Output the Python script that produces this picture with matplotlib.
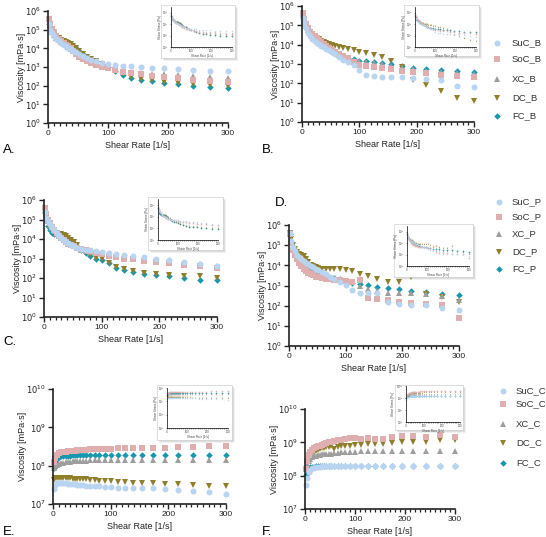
import numpy as np
import matplotlib
matplotlib.use('Agg')
import matplotlib.pyplot as plt
from matplotlib.patches import Rectangle
from matplotlib.lines import Line2D
from matplotlib.ticker import MultipleLocator, NullLocator

plt.rcParams['font.family'] = ['Liberation Sans', 'DejaVu Sans']

W, H = 546, 537

# shear rate [1/s]
shear = [2, 4, 7, 10, 14, 18, 22, 26, 30, 34, 38, 42, 47, 52, 58, 65, 72, 80, 90,
         100, 112, 125, 139, 155, 174, 194, 216, 242, 270, 300]

# log10 of viscosity [mPa·s]
# A: _B series
a_suc = [5.3, 5.0, 4.8, 4.65, 4.5, 4.4, 4.3, 4.2, 4.12, 4.03, 3.95, 3.87, 3.78, 3.7, 3.6, 3.5, 3.4, 3.3, 3.23,
         3.18, 3.12, 3.08, 3.04, 3.0, 2.96, 2.92, 2.88, 2.84, 2.8, 2.76]
a_soc = [5.55, 5.3, 5.05, 4.85, 4.65, 4.5, 4.4, 4.3, 4.2, 4.1, 4.0, 3.85, 3.7, 3.55, 3.42, 3.3, 3.2, 3.1, 3.0,
         2.92, 2.82, 2.75, 2.68, 2.6, 2.53, 2.46, 2.4, 2.32, 2.25, 2.2]
a_xc = [5.4, 5.1, 4.85, 4.7, 4.55, 4.45, 4.35, 4.25, 4.16, 4.07, 3.98, 3.9, 3.8, 3.7, 3.6, 3.5, 3.4, 3.3, 3.2,
        3.1, 2.95, 2.85, 2.75, 2.7, 2.65, 2.6, 2.55, 2.5, 2.45, 2.4]
a_dc = [5.5, 5.2, 4.95, 4.8, 4.65, 4.55, 4.45, 4.4, 4.35, 4.3, 4.22, 4.12, 4.0, 3.85, 3.7, 3.55, 3.42, 3.3, 3.15,
        3.0, 2.8, 2.6, 2.45, 2.35, 2.28, 2.2, 2.15, 2.08, 2.03, 1.97]
a_fc = [5.45, 5.15, 4.9, 4.75, 4.6, 4.5, 4.42, 4.38, 4.33, 4.3, 4.22, 4.12, 4.0, 3.85, 3.7, 3.55, 3.42, 3.3, 3.12,
        2.98, 2.78, 2.58, 2.42, 2.32, 2.24, 2.15, 2.08, 1.98, 1.92, 1.85]

# B: _B series
b_suc = [5.4, 5.1, 4.85, 4.6, 4.45, 4.3, 4.2, 4.1, 4.02, 3.95, 3.88, 3.8, 3.72, 3.62, 3.5, 3.35, 3.22, 3.1, 2.95,
         2.68, 2.45, 2.38, 2.35, 2.32, 2.35, 2.27, 2.2, 2.15, 1.84, 1.8]
b_soc = [5.65, 5.35, 5.05, 4.85, 4.68, 4.55, 4.45, 4.35, 4.25, 4.15, 4.05, 3.95, 3.85, 3.75, 3.6, 3.5, 3.4, 3.3, 3.1,
         2.95, 2.9, 2.85, 2.8, 2.75, 2.66, 2.6, 2.53, 2.45, 2.4, 2.35]
b_xc = [5.5, 5.2, 4.95, 4.75, 4.6, 4.48, 4.38, 4.28, 4.18, 4.08, 3.98, 3.88, 3.78, 3.68, 3.55, 3.45, 3.35, 3.28, 3.2,
        3.15, 3.1, 3.05, 3.0, 2.9, 2.8, 2.72, 2.65, 2.6, 2.55, 2.5]
b_dc = [5.55, 5.25, 5.0, 4.8, 4.65, 4.55, 4.45, 4.35, 4.28, 4.2, 4.15, 4.1, 4.05, 4.0, 3.95, 3.9, 3.83, 3.78, 3.7,
        3.64, 3.55, 3.45, 3.38, 3.16, 2.87, 2.18, 1.92, 1.58, 1.24, 1.07]
b_fc = [5.5, 5.2, 4.95, 4.75, 4.6, 4.48, 4.38, 4.28, 4.18, 4.08, 3.98, 3.88, 3.78, 3.65, 3.55, 3.47, 3.4, 3.32, 3.25,
        3.18, 3.13, 3.08, 3.04, 3.0, 2.9, 2.8, 2.75, 2.7, 2.65, 2.61]

# C: _P series
c_suc = [5.4, 5.1, 4.9, 4.75, 4.6, 4.45, 4.3, 4.15, 4.05, 3.95, 3.85, 3.78, 3.7, 3.62, 3.55, 3.5, 3.45, 3.42, 3.38,
         3.34, 3.28, 3.22, 3.17, 3.12, 3.08, 3.0, 2.92, 2.83, 2.74, 2.6]
c_soc = [5.57, 5.3, 5.0, 4.8, 4.6, 4.45, 4.3, 4.15, 4.05, 3.95, 3.85, 3.76, 3.68, 3.62, 3.56, 3.5, 3.45, 3.4, 3.3,
         3.22, 3.15, 3.08, 3.0, 2.95, 2.88, 2.8, 2.75, 2.68, 2.62, 2.52]
c_xc = [5.45, 5.15, 4.9, 4.7, 4.55, 4.4, 4.28, 4.18, 4.1, 4.0, 3.9, 3.82, 3.72, 3.62, 3.52, 3.45, 3.4, 3.35, 3.3,
        3.25, 3.2, 3.15, 3.1, 3.05, 3.0, 2.92, 2.85, 2.78, 2.7, 2.6]
c_dc = [5.45, 5.1, 4.8, 4.6, 4.45, 4.35, 4.3, 4.28, 4.25, 4.2, 4.15, 4.05, 3.95, 3.85, 3.7, 3.5, 3.35, 3.2, 3.05,
        2.95, 2.78, 2.55, 2.44, 2.35, 2.25, 2.2, 2.15, 2.12, 2.09, 2.02]
c_fc = [5.4, 5.0, 4.65, 4.45, 4.3, 4.25, 4.25, 4.25, 4.25, 4.2, 4.15, 4.05, 3.95, 3.82, 3.65, 3.45, 3.3, 3.15, 3.0,
        2.92, 2.75, 2.52, 2.4, 2.3, 2.2, 2.14, 2.09, 2.0, 1.92, 1.89]

# D: _P series
d_suc = [5.6, 5.2, 4.9, 4.7, 4.52, 4.4, 4.3, 4.2, 4.12, 4.05, 3.98, 3.9, 3.82, 3.75, 3.65, 3.55, 3.4, 3.3, 3.15,
         3.02, 2.8, 2.64, 2.62, 2.61, 2.17, 2.07, 2.05, 2.03, 1.87, 1.79]
d_soc = [5.55, 5.1, 4.75, 4.5, 4.3, 4.1, 3.95, 3.82, 3.72, 3.62, 3.55, 3.5, 3.44, 3.4, 3.36, 3.32, 3.3, 3.28, 3.25,
         3.22, 3.19, 3.25, 2.4, 2.35, 2.3, 2.2, 2.15, 2.07, 2.03, 1.4]
d_xc = [5.58, 5.15, 4.85, 4.62, 4.45, 4.32, 4.22, 4.14, 4.06, 4.0, 3.92, 3.85, 3.78, 3.7, 3.6, 3.5, 3.42, 3.35, 3.28,
        3.22, 3.19, 3.0, 2.85, 2.73, 2.64, 2.64, 2.64, 2.58, 2.48, 2.28]
d_dc = [5.62, 5.3, 5.0, 4.8, 4.65, 4.55, 4.5, 4.45, 4.3, 4.15, 4.0, 3.95, 3.9, 3.85, 3.82, 3.8, 3.8, 3.8, 3.8,
        3.78, 3.7, 3.57, 3.45, 3.32, 3.19, 3.19, 3.44, 2.58, 2.41, 2.18]
d_fc = [5.55, 5.15, 4.85, 4.65, 4.5, 4.38, 4.28, 4.18, 4.1, 4.0, 3.9, 3.8, 3.7, 3.6, 3.5, 3.42, 3.38, 3.36, 3.3,
        3.2, 3.1, 3.05, 3.02, 2.94, 2.86, 2.83, 2.74, 2.66, 2.6, 2.53]

# E: _C series
e_suc = [7.4, 7.5, 7.54, 7.55, 7.56, 7.55, 7.54, 7.53, 7.52, 7.52, 7.51, 7.5, 7.5, 7.49, 7.48, 7.47, 7.47, 7.46, 7.45,
         7.44, 7.43, 7.43, 7.43, 7.42, 7.41, 7.39, 7.36, 7.33, 7.3, 7.26]
e_soc = [8.1, 8.2, 8.27, 8.32, 8.35, 8.36, 8.36, 8.37, 8.37, 8.38, 8.39, 8.4, 8.41, 8.42, 8.42, 8.43, 8.43, 8.44, 8.44,
         8.44, 8.45, 8.45, 8.45, 8.46, 8.47, 8.47, 8.48, 8.48, 8.5, 8.5]
e_xc = [7.95, 8.0, 8.03, 8.05, 8.07, 8.08, 8.09, 8.1, 8.1, 8.11, 8.11, 8.12, 8.12, 8.13, 8.13, 8.14, 8.14, 8.14, 8.15,
        8.15, 8.15, 8.15, 8.15, 8.15, 8.15, 8.15, 8.15, 8.15, 8.15, 8.15]
e_dc = [7.62, 7.68, 7.69, 7.69, 7.68, 7.68, 7.67, 7.67, 7.67, 7.66, 7.66, 7.65, 7.65, 7.64, 7.64, 7.63, 7.62, 7.61, 7.6,
        7.6, 7.58, 7.57, 7.56, 7.55, 7.54, 7.53, 7.52, 7.5, 7.48, 7.46]
e_fc = [7.95, 8.1, 8.18, 8.22, 8.24, 8.25, 8.25, 8.26, 8.26, 8.27, 8.27, 8.27, 8.28, 8.28, 8.28, 8.28, 8.28, 8.28, 8.28,
        8.28, 8.28, 8.28, 8.28, 8.28, 8.28, 8.28, 8.28, 8.28, 8.28, 8.28]

# F: _C series
f_suc = [7.73, 7.93, 8.1, 8.18, 8.22, 8.24, 8.26, 8.27, 8.27, 8.28, 8.28, 8.28, 8.29, 8.29, 8.29, 8.29, 8.3, 8.3, 8.3,
         8.3, 8.3, 8.3, 8.3, 8.3, 8.3, 8.3, 8.3, 8.3, 8.3, 8.3]
f_soc = [8.2, 8.45, 8.62, 8.7, 8.78, 8.83, 8.86, 8.88, 8.9, 8.93, 8.96, 8.98, 9.0, 9.02, 9.04, 9.06, 9.08, 9.1, 9.12,
         9.12, 9.1, 9.13, 9.1, 9.1, 9.15, 9.18, 9.2, 9.15, 9.23, 9.16]
f_xc = [8.2, 8.35, 8.45, 8.5, 8.55, 8.58, 8.6, 8.62, 8.63, 8.64, 8.65, 8.65, 8.66, 8.66, 8.67, 8.68, 8.7, 8.7, 8.72,
        8.72, 8.73, 8.73, 8.73, 8.73, 8.73, 8.73, 8.73, 8.73, 8.73, 8.75]
f_dc = [8.2, 8.4, 8.52, 8.58, 8.65, 8.7, 8.74, 8.77, 8.8, 8.82, 8.84, 8.86, 8.87, 8.88, 8.8, 8.85, 8.88, 8.9, 8.9,
        8.92, 8.92, 8.94, 8.95, 8.96, 8.98, 9.0, 9.0, 9.02, 9.06, 9.06]
f_fc = [8.03, 8.18, 8.24, 8.26, 8.27, 8.27, 8.28, 8.28, 8.28, 8.28, 8.28, 8.28, 8.28, 8.28, 8.28, 8.28, 8.28, 8.28, 8.28,
        8.28, 8.28, 8.28, 8.28, 8.28, 8.28, 8.28, 8.28, 8.28, 8.28, 8.28]

names = ['SuC', 'SoC', 'XC', 'DC', 'FC']
colors = ['#b9d4f1', '#dfaeae', '#9e9e9e', '#8f7f2c', '#1697ad']
markers = ['o', 's', '^', 'v', 'D']
msizes = [4.3, 4.0, 4.0, 4.3, 3.3]


def rect(x0, y0, x1, y1):
    # pixel box (top-left origin) -> figure fraction
    return [x0 / W, 1 - y1 / H, (x1 - x0) / W, (y1 - y0) / H]


fig = plt.figure(figsize=(W / 100, H / 100), dpi=100)

# each panel: data, main axes box, inset card, inset axes, y decades, inset y decades
panels = [
    dict(data=[a_suc, a_soc, a_xc, a_dc, a_fc], ax=(48, 11, 228, 123), card=(161, 5, 235, 58),
         inner=(171, 7, 232, 47), dec=(0, 6), idec=(0, 7), tag='A.', tagpos=(3, 150)),
    dict(data=[b_suc, b_soc, b_xc, b_dc, b_fc], ax=(302, 6, 474, 122), card=(404, 5, 479, 56),
         inner=(415, 7, 476, 47), dec=(0, 6), idec=(0, 7), tag='B.', tagpos=(262, 150)),
    dict(data=[c_suc, c_soc, c_xc, c_dc, c_fc], ax=(44, 200, 217, 317), card=(148, 197, 223, 250),
         inner=(158, 199, 218, 240), dec=(0, 6), idec=(0, 7), tag='C.', tagpos=(3, 342)),
    dict(data=[d_suc, d_soc, d_xc, d_dc, d_fc], ax=(289, 225, 459, 346), card=(394, 224, 473, 277),
         inner=(407, 226, 469, 266), dec=(0, 6), idec=(0, 7), tag='D.', tagpos=(275, 203)),
    dict(data=[e_suc, e_soc, e_xc, e_dc, e_fc], ax=(53, 389, 226, 504), card=(157, 385, 232, 440),
         inner=(167, 388, 228, 428), dec=(7, 10), idec=(3, 9), tag='E.', tagpos=(3, 532)),
    dict(data=[f_suc, f_soc, f_xc, f_dc, f_fc], ax=(305, 409, 455, 509), card=(395, 385, 463, 430),
         inner=(406, 386, 460, 422), dec=(7, 10), idec=(4, 10), tag='F.', tagpos=(262, 532)),
]

for p in panels:
    ax = fig.add_axes(rect(*p['ax']))
    for k in range(4, -1, -1):
        ax.plot(shear, [10 ** v for v in p['data'][k]], linestyle='none', marker=markers[k],
                color=colors[k], ms=msizes[k], mew=0, clip_on=False)
    ax.set_yscale('log')
    lo, hi = p['dec']
    ax.set_ylim(10 ** lo, 10 ** hi)
    ax.set_xlim(0, 300)
    ax.set_yticks([10 ** k for k in range(lo, hi + 1)])
    ax.set_yticklabels(['$10^{%d}$' % k for k in range(lo, hi + 1)])
    ax.yaxis.set_minor_locator(NullLocator())
    ax.set_xticks([0, 100, 200, 300])
    ax.xaxis.set_minor_locator(MultipleLocator(10))
    for s in ['top', 'right']:
        ax.spines[s].set_visible(False)
    for s in ['left', 'bottom']:
        ax.spines[s].set_linewidth(1.2)
        ax.spines[s].set_color('#222222')
    ax.tick_params(which='major', length=3.5, width=1.0, labelsize=6, colors='#222222', pad=1.5)
    ax.tick_params(which='minor', length=2.2, width=0.9, colors='#222222')
    ax.set_xlabel('Shear Rate [1/s]', fontsize=6.5, color='#222222', labelpad=3)
    ax.set_ylabel('Viscosity [mPa·s]', fontsize=6.5, color='#222222', labelpad=-0.5)
    ax.patch.set_alpha(0)

    # inset card with soft shadow
    x0, y0, x1, y1 = p['card']
    for off, al in [(3, 0.08), (2, 0.12), (1, 0.18)]:
        r = rect(x0 + off, y0 + off, x1 + off, y1 + off)
        fig.add_artist(Rectangle((r[0], r[1]), r[2], r[3], transform=fig.transFigure,
                                 facecolor='#555555', edgecolor='none', alpha=al, zorder=2))
    fig.add_artist(Rectangle((x0 / W, 1 - y1 / H), (x1 - x0) / W, (y1 - y0) / H,
                             transform=fig.transFigure, facecolor='white',
                             edgecolor='#d0d0d0', lw=0.5, zorder=3))
    ins = fig.add_axes(rect(*p['inner']))
    ins.set_zorder(4)
    for k in range(4, -1, -1):
        ins.plot(shear, [10 ** v for v in p['data'][k]], linestyle='none', marker=markers[k],
                 color=colors[k], ms=1.1, mew=0, alpha=0.9, clip_on=False)
    ins.set_yscale('log')
    ilo, ihi = p['idec']
    ins.set_ylim(10 ** ilo, 10 ** ihi)
    ins.set_xlim(0, 300)
    ins.set_yticks([10 ** k for k in range(ilo, ihi + 1, 2)])
    ins.set_yticklabels(['$10^{%d}$' % k for k in range(ilo, ihi + 1, 2)])
    ins.yaxis.set_minor_locator(NullLocator())
    ins.set_xticks([0, 100, 200, 300])
    ins.xaxis.set_minor_locator(MultipleLocator(10))
    for s in ['top', 'right']:
        ins.spines[s].set_visible(False)
    for s in ['left', 'bottom']:
        ins.spines[s].set_linewidth(0.5)
    ins.tick_params(which='both', length=1.0, width=0.4, labelsize=2, pad=0.5, colors='#444444')
    ins.set_xlabel('Shear Rate [1/s]', fontsize=2.2, labelpad=0.5, color='#444444')
    ins.set_ylabel('Shear Stress [Pa]', fontsize=2.2, labelpad=0.5, color='#444444')
    ins.patch.set_alpha(0)

    fig.text(p['tagpos'][0] / W, 1 - p['tagpos'][1] / H, p['tag'], fontsize=9.5,
             ha='left', va='center', color='black')

# legends for the three rows
legends = [
    ('_B', 497, 512, [43, 59, 79, 98, 116]),
    ('_P', 499, 512, [202, 217, 234, 252, 269]),
    ('_C', 503, 516, [391, 404, 424, 443, 463]),
]
for suffix, mx, tx, ys in legends:
    for k in range(5):
        fig.add_artist(Line2D([mx / W], [1 - ys[k] / H], transform=fig.transFigure,
                              linestyle='none', marker=markers[k], color=colors[k],
                              ms=msizes[k], mew=0))
        fig.text(tx / W, 1 - ys[k] / H, names[k] + suffix, fontsize=6.8, ha='left',
                 va='center', color='#333333')

fig.savefig('out.png', dpi=100)
